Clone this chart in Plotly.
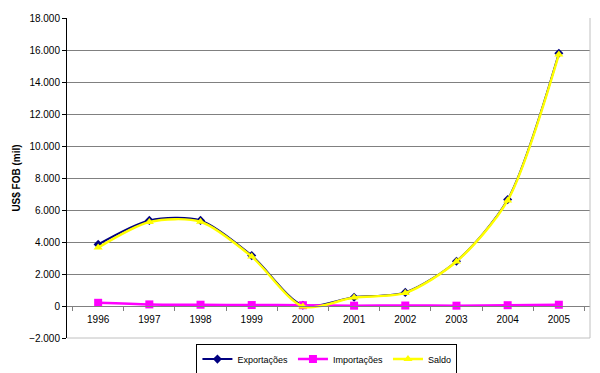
import plotly.graph_objects as go

anos = ["1996", "1997", "1998", "1999", "2000", "2001", "2002", "2003", "2004", "2005"]
exportacoes = [3850, 5350, 5350, 3150, 50, 550, 850, 2800, 6650, 15800]
importacoes = [200, 100, 80, 60, 50, 20, 30, 20, 50, 80]
saldo = [3650, 5250, 5270, 3090, -30, 530, 820, 2780, 6600, 15720]

y_ticks = [-2000, 0, 2000, 4000, 6000, 8000, 10000, 12000, 14000, 16000, 18000]

fig = go.Figure()
fig.add_trace(go.Scatter(x=anos, y=exportacoes, name="Exportações", mode="lines+markers",
                         line=dict(color="#000080", width=2, shape="spline", smoothing=0.8),
                         marker=dict(symbol="diamond", size=7, color="#000080")))
fig.add_trace(go.Scatter(x=anos, y=importacoes, name="Importações", mode="lines+markers",
                         line=dict(color="#FF00FF", width=2.5, shape="spline", smoothing=0.8),
                         marker=dict(symbol="square", size=8, color="#FF00FF")))
fig.add_trace(go.Scatter(x=anos, y=saldo, name="Saldo", mode="lines+markers",
                         line=dict(color="#FFFF00", width=2.5, shape="spline", smoothing=0.8),
                         marker=dict(symbol="triangle-up", size=8, color="#FFFF00")))

fig.update_layout(
    width=600, height=373,
    margin=dict(l=59, r=18, t=10, b=43, autoexpand=False),
    paper_bgcolor="white", plot_bgcolor="white",
    separators=",.",
    font=dict(family="Liberation Sans, Arial, sans-serif", size=10, color="black"),
    showlegend=True,
    legend=dict(orientation="h",
                x=0.497, xanchor="center", y=-0.066, yanchor="middle",
                bordercolor="black", borderwidth=1, font=dict(size=9),
                itemwidth=30, tracegroupgap=0, bgcolor="white"),
    xaxis=dict(type="category", anchor="free", position=0.1, showgrid=False,
               showline=True, linecolor="#808080", linewidth=1,
               ticks="outside", ticklen=4, tickcolor="#808080", tickson="boundaries",
               ticklabelstandoff=4,
               tickfont=dict(size=10), zeroline=False, automargin=False),
    yaxis=dict(range=[-2000, 18000], tickvals=y_ticks, tickformat=",d",
               showgrid=True, gridcolor="#808080", gridwidth=1,
               showline=True, linecolor="black", linewidth=1,
               ticks="outside", ticklen=4, tickcolor="black",
               zeroline=False, automargin=False,
               title=dict(text="<b>US$ FOB (mil)</b>", font=dict(size=10), standoff=6)),
)
fig.add_shape(type="line", xref="paper", yref="paper", x0=1, x1=1, y0=0, y1=1,
              line=dict(color="#C0C0C0", width=1))
fig.add_shape(type="line", xref="paper", yref="paper", x0=0, x1=1, y0=0, y1=0,
              line=dict(color="#C0C0C0", width=1))

fig.write_html("out.html")
